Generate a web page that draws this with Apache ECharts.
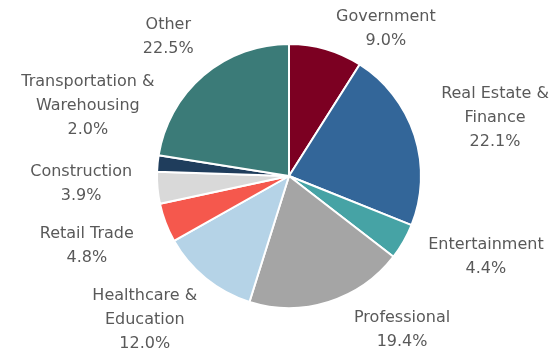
<!DOCTYPE html>
<html>
<head>
<meta charset="utf-8">
<style>
  html, body { margin: 0; padding: 0; background: #ffffff; }
  #chart { width: 558px; height: 355px; }
</style>
<script src="https://cdn.jsdelivr.net/npm/echarts@6/dist/echarts.min.js"></script>
</head>
<body>
<div id="chart"></div>
<script>
// Employment share by sector, clockwise from 12 o'clock
const categories = [
  'Government',
  'Real Estate &\nFinance',
  'Entertainment',
  'Professional',
  'Healthcare &\nEducation',
  'Retail Trade',
  'Construction',
  'Transportation &\nWarehousing',
  'Other'
];
const shares = [9.0, 22.1, 4.4, 19.4, 12.0, 4.8, 3.9, 2.0, 22.5];
const colors = ['#7c0022', '#336699', '#46a3a5', '#a5a5a5', '#b5d3e7',
                '#f5584d', '#d9d9d9', '#1f3d5c', '#3b7b78'];

// Pie geometry
const PIE_CX = 289, PIE_CY = 176, PIE_R = 132;
// Label anchor for each slice: [angle clockwise from top in degrees, distance from centre]
const labelPolar = [
  [33.4, 176], [74.3, 214], [112.4, 213], [143.7, 191], [225, 204],
  [250.9, 214], [267.8, 208], [289.2, 213], [319, 184]
];

const chart = echarts.init(document.getElementById('chart'), null, { renderer: 'canvas' });

chart.setOption({
  animation: false,
  backgroundColor: '#ffffff',
  series: [{
    type: 'pie',
    center: [PIE_CX, PIE_CY],
    radius: [0, PIE_R],
    startAngle: 90,
    clockwise: true,
    avoidLabelOverlap: false,
    itemStyle: { borderColor: '#ffffff', borderWidth: 2 },
    label: {
      show: true,
      position: 'outside',
      color: '#595959',
      fontFamily: 'DejaVu Sans',
      fontSize: 16,
      lineHeight: 24,
      align: 'center',
      formatter: p => p.name + '\n' + p.value.toFixed(1) + '%'
    },
    labelLine: { show: false },
    labelLayout: params => {
      const [deg, dist] = labelPolar[params.dataIndex];
      const a = deg * Math.PI / 180;
      return {
        x: PIE_CX + dist * Math.sin(a),
        y: PIE_CY - dist * Math.cos(a),
        align: 'center',
        verticalAlign: 'middle'
      };
    },
    emphasis: { disabled: true },
    data: categories.map((name, i) => ({
      name: name,
      value: shares[i],
      itemStyle: { color: colors[i] }
    }))
  }]
});
</script>
</body>
</html>
